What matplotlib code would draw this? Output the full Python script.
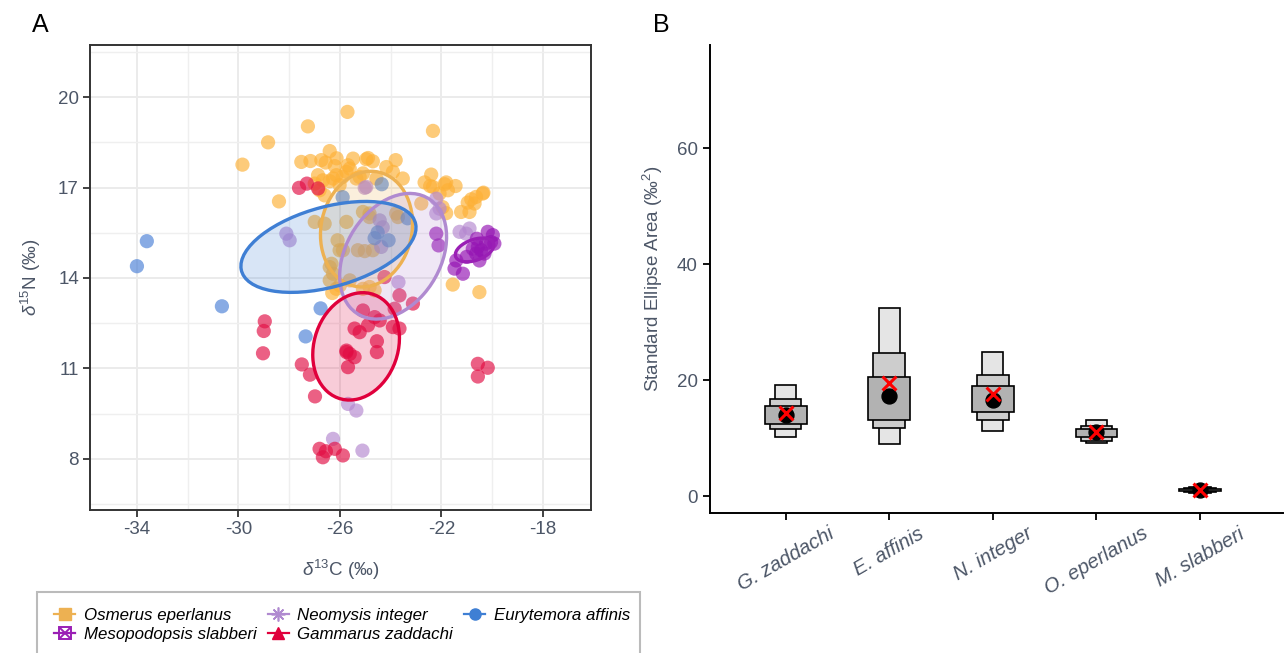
import matplotlib
matplotlib.use("Agg")
import matplotlib.pyplot as plt
from matplotlib.patches import Ellipse, Rectangle
from matplotlib.lines import Line2D
from matplotlib.ticker import FixedLocator

plt.rcParams['font.family'] = ['Liberation Sans', 'DejaVu Sans']
plt.rcParams['mathtext.fontset'] = 'custom'
plt.rcParams['mathtext.rm'] = 'Liberation Sans'
plt.rcParams['mathtext.it'] = 'Liberation Sans:italic'
plt.rcParams['mathtext.bf'] = 'Liberation Sans:bold'
plt.rcParams['axes.unicode_minus'] = False

TEXT = '#4C5667'

# ---------------- isotope values (d13C, d15N) ----------------
osm_c = [-29.84, -28.83, -27.26, -25.70, -28.40, -27.52, -27.16, -26.73, -26.40, -26.56,
         -26.20, -26.13, -25.68, -25.48, -24.96, -25.74, -26.86, -26.67, -26.40, -26.99,
         -26.80, -26.60, -26.14, -26.01, -25.35, -25.09, -22.33, -24.89, -24.70, -23.80,
         -24.17, -23.91, -23.52, -24.56, -22.40, -22.66, -22.44, -21.81, -21.74, -21.44,
         -22.07, -20.82, -20.63, -20.34, -20.96, -21.22, -20.89, -22.79, -26.99, -26.60,
         -25.74, -23.71, -25.09, -24.83, -25.88, -25.29, -25.02, -26.33, -26.27, -21.55,
         -20.50, -20.69, -21.95, -21.81, -24.83, -23.78, -24.70, -25.09, -24.63, -26.40,
         -26.14, -25.61, -24.83, -26.40, -26.01, -26.27, -25.61, -25.89, -25.22, -21.87,
         -22.33, -20.37, -26.09, -26.30, -26.00]
osm_n = [17.76, 18.50, 19.03, 19.51, 16.54, 17.85, 17.88, 17.91, 18.21, 17.83,
         17.71, 17.97, 17.74, 17.96, 17.94, 17.52, 17.41, 17.24, 17.21, 17.13,
         16.91, 16.74, 17.41, 17.08, 17.30, 17.47, 18.88, 17.98, 17.87, 17.91,
         17.68, 17.52, 17.30, 17.30, 17.43, 17.17, 17.05, 17.17, 16.91, 17.05,
         16.80, 16.61, 16.69, 16.83, 16.50, 16.19, 16.19, 16.47, 15.86, 15.80,
         15.86, 16.02, 16.19, 16.14, 14.92, 14.92, 14.89, 14.47, 14.14, 13.78,
         13.53, 16.47, 16.35, 16.15, 16.02, 16.14, 14.92, 13.64, 13.59, 13.92,
         13.64, 13.92, 13.70, 14.36, 14.92, 17.30, 17.63, 17.35, 17.35, 17.11,
         17.02, 16.80, 15.25, 13.50, 13.75]

mes_c = [-22.20, -22.11, -20.17, -19.97, -20.56, -20.43, -20.30, -20.63, -20.24, -20.04,
         -19.91, -20.76, -21.41, -21.48, -21.15, -20.50, -20.60, -21.00]
mes_n = [15.47, 15.08, 15.53, 15.42, 15.03, 14.92, 14.81, 14.81, 15.14, 15.19,
         15.14, 14.97, 14.58, 14.31, 14.14, 14.58, 15.30, 14.70]

neo_c = [-28.11, -27.98, -23.69, -25.68, -25.35, -26.27, -25.11, -24.43, -24.31, -22.20,
         -21.28, -20.89, -21.02, -24.37, -24.96, -22.20, -22.07, -25.02]
neo_n = [15.47, 15.25, 13.86, 9.82, 9.60, 8.66, 8.27, 15.91, 15.68, 16.14,
         15.53, 15.64, 15.47, 15.03, 17.02, 16.63, 16.30, 16.99]

gam_c = [-27.61, -27.30, -26.86, -28.96, -29.00, -29.03, -27.50, -27.18, -26.98, -26.80,
         -26.67, -26.20, -25.88, -25.74, -24.24, -23.65, -23.12, -25.09, -24.63, -24.43,
         -24.89, -25.42, -25.22, -23.84, -23.91, -23.65, -24.54, -24.54, -25.74, -25.61,
         -25.42, -25.68, -20.56, -20.17, -20.56, -26.55]
gam_n = [16.99, 17.13, 16.97, 12.56, 12.24, 11.50, 11.13, 10.79, 10.07, 8.33,
         8.05, 8.33, 8.11, 11.54, 14.03, 13.42, 13.15, 12.92, 12.70, 12.59,
         12.43, 12.32, 12.20, 12.98, 12.37, 12.32, 11.90, 11.54, 11.59, 11.48,
         11.37, 11.04, 11.15, 11.02, 10.73, 8.25]

eur_c = [-33.61, -34.00, -30.65, -26.76, -27.35, -25.89, -24.35, -23.33, -24.51, -24.63,
         -24.08]
eur_n = [15.22, 14.39, 13.06, 12.99, 12.06, 16.68, 17.11, 15.98, 15.51, 15.32,
         15.25]

# standard ellipses: centre, semi-axes, rotation (degrees, data space)
ell_cx = {'osm': -24.95, 'mes': -20.69, 'neo': -23.90, 'gam': -25.36, 'eur': -26.45}
ell_cy = {'osm': 15.62, 'mes': 14.93, 'neo': 14.72, 'gam': 11.73, 'eur': 15.03}
ell_a = {'osm': 1.97, 'mes': 0.78, 'neo': 2.40, 'gam': 1.88, 'eur': 3.52}
ell_b = {'osm': 1.76, 'mes': 0.35, 'neo': 1.74, 'gam': 1.60, 'eur': 1.34}
ell_ang = {'osm': 60, 'mes': 15, 'neo': 44, 'gam': 52.6, 'eur': 12.3}

# ---------------- Bayesian SEA summaries ----------------
taxa = ['G. zaddachi', 'E. affinis', 'N. integer', 'O. eperlanus', 'M. slabberi']
sea_mode = [14.0, 17.2, 16.6, 11.1, 1.05]
sea_c = [14.4, 19.5, 17.7, 11.0, 1.10]
ci95_lo = [10.2, 9.0, 11.3, 9.1, 0.60]
ci95_hi = [19.1, 32.5, 24.9, 13.1, 1.60]
ci75_lo = [11.6, 11.8, 13.2, 9.6, 0.75]
ci75_hi = [16.7, 24.7, 20.9, 12.1, 1.35]
ci50_lo = [12.5, 13.2, 14.6, 10.2, 0.85]
ci50_hi = [15.5, 20.6, 19.0, 11.5, 1.20]

species = [
    ('osm', 'Osmerus eperlanus', osm_c, osm_n, '#FDB036', '#EDB152', 's'),
    ('neo', 'Neomysis integer', neo_c, neo_n, '#B487CF', '#B08AD0', 'ast'),
    ('eur', 'Eurytemora affinis', eur_c, eur_n, '#4A80D6', '#3F7FD4', 'o'),
    ('mes', 'Mesopodopsis slabberi', mes_c, mes_n, '#9412B3', '#9A1FB5', 'box'),
    ('gam', 'Gammarus zaddachi', gam_c, gam_n, '#E20E44', '#E0003C', '^'),
]

W, H = 1285, 653
fig = plt.figure(figsize=(W / 100, H / 100), dpi=100)


def fx(px):
    return px / W


def fy(py):
    return 1 - py / H


# ---------------- Panel A ----------------
axA = fig.add_axes([fx(90), fy(510), fx(591) - fx(90), fy(45) - fy(510)])
axA.set_xlim(-35.85, -16.1)
axA.set_ylim(6.3, 21.73)
axA.xaxis.set_major_locator(FixedLocator([-34, -30, -26, -22, -18]))
axA.xaxis.set_minor_locator(FixedLocator([-32, -28, -24, -20, -16]))
axA.yaxis.set_major_locator(FixedLocator([8, 11, 14, 17, 20]))
axA.yaxis.set_minor_locator(FixedLocator([6.5, 9.5, 12.5, 15.5, 18.5, 21.5]))
axA.grid(which='major', color='#EBEBEB', lw=1.4, zorder=0)
axA.grid(which='minor', color='#EFEFEF', lw=1.0, zorder=0)
axA.set_axisbelow(True)
axA.tick_params(which='minor', length=0)
axA.tick_params(which='major', length=5, width=1.3, color='#333333',
                labelsize=13.5, labelcolor=TEXT, pad=3)
for s in axA.spines.values():
    s.set_color('#333333')
    s.set_linewidth(1.4)

for key, name, xs, ys, pcol, lcol, mk in species:
    axA.scatter(xs, ys, s=105, color=pcol, alpha=0.66, edgecolors='none', zorder=2)

for key, name, xs, ys, pcol, lcol, mk in species:
    e = Ellipse((ell_cx[key], ell_cy[key]), 2 * ell_a[key], 2 * ell_b[key],
                angle=ell_ang[key], facecolor=lcol, alpha=0.2, edgecolor='none', zorder=3)
    axA.add_patch(e)
    e2 = Ellipse((ell_cx[key], ell_cy[key]), 2 * ell_a[key], 2 * ell_b[key],
                 angle=ell_ang[key], facecolor='none', edgecolor=lcol, lw=2.4, zorder=4)
    axA.add_patch(e2)

axA.set_xlabel(r'$\it{\delta}^{13}$C (‰)', fontsize=13.5, color=TEXT, labelpad=14)
axA.set_ylabel(r'$\it{\delta}^{15}$N (‰)', fontsize=13.5, color=TEXT, labelpad=11)

fig.text(fx(40), fy(25), 'A', fontsize=18, va='center', ha='center')

# legend box below panel A
fig.patches.append(Rectangle((fx(37), fy(665)), fx(640) - fx(37), fy(592) - fy(665),
                             transform=fig.transFigure, facecolor='white',
                             edgecolor='#BBBBBB', lw=1.5, zorder=0))


def handle(key, pcol, mk):
    if mk == 'box':
        h1 = Line2D([], [], color=pcol, lw=1.6, marker='s', markersize=8,
                    markerfacecolor='none', markeredgecolor=pcol, markeredgewidth=1.4)
        h2 = Line2D([], [], color='none', marker='x', markersize=7,
                    markeredgecolor=pcol, markeredgewidth=1.4)
        return (h1, h2)
    if mk == 'ast':
        return Line2D([], [], color=pcol, lw=1.6, marker=(8, 2, 0), markersize=10,
                      markeredgecolor=pcol, markeredgewidth=1.2)
    return Line2D([], [], color=pcol, lw=1.6, marker=mk, markersize=8,
                  markerfacecolor=pcol, markeredgecolor=pcol)


order = ['osm', 'mes', 'neo', 'gam', 'eur']
lookup = {sp[0]: sp for sp in species}
handles = [handle(k, lookup[k][5], lookup[k][6]) for k in order]
labels = [lookup[k][1] for k in order]
leg = fig.legend(handles, labels, loc='upper left', bbox_to_anchor=(fx(54), fy(608)),
                 ncol=3, frameon=False, handlelength=1.25,
                 handletextpad=0.5, columnspacing=0.66, labelspacing=0.22,
                 borderaxespad=0, borderpad=0, prop={'style': 'italic', 'size': 12.2})

# ---------------- Panel B ----------------
axB = fig.add_axes([fx(710), fy(513), fx(1283) - fx(710), fy(45) - fy(513)])
pos = list(range(1, len(taxa) + 1))
axB.set_xlim(0.27, 5.8)
axB.set_ylim(-2.9, 77.8)
axB.bar(pos, [h - l for l, h in zip(ci95_lo, ci95_hi)], bottom=ci95_lo, width=0.205,
        color='#E5E5E5', edgecolor='black', lw=1.2, zorder=2)
axB.bar(pos, [h - l for l, h in zip(ci75_lo, ci75_hi)], bottom=ci75_lo, width=0.305,
        color='#CDCDCD', edgecolor='black', lw=1.2, zorder=3)
axB.bar(pos, [h - l for l, h in zip(ci50_lo, ci50_hi)], bottom=ci50_lo, width=0.405,
        color='#B2B2B2', edgecolor='black', lw=1.2, zorder=4)
axB.scatter(pos, sea_mode, s=115, color='black', zorder=5)
axB.scatter(pos, sea_c, s=100, marker='x', color='red', linewidths=2.2, zorder=6)

axB.set_xticks(pos)
axB.set_xticklabels(taxa, rotation=30, ha='center', va='top', style='italic')
axB.set_yticks([0, 20, 40, 60])
axB.tick_params(axis='y', length=5, width=1.3, color='black', labelsize=13.5,
                labelcolor=TEXT, pad=4)
axB.tick_params(axis='x', length=5, width=1.3, color='black', labelsize=14.5,
                labelcolor=TEXT, pad=3)
for side in ('top', 'right'):
    axB.spines[side].set_visible(False)
for side in ('left', 'bottom'):
    axB.spines[side].set_linewidth(1.4)
axB.set_ylabel('Standard Ellipse Area (‰$^2$)', fontsize=13.5, color=TEXT, labelpad=8)

fig.text(fx(661), fy(25), 'B', fontsize=18, va='center', ha='center')

fig.savefig('out.png', dpi=100)
